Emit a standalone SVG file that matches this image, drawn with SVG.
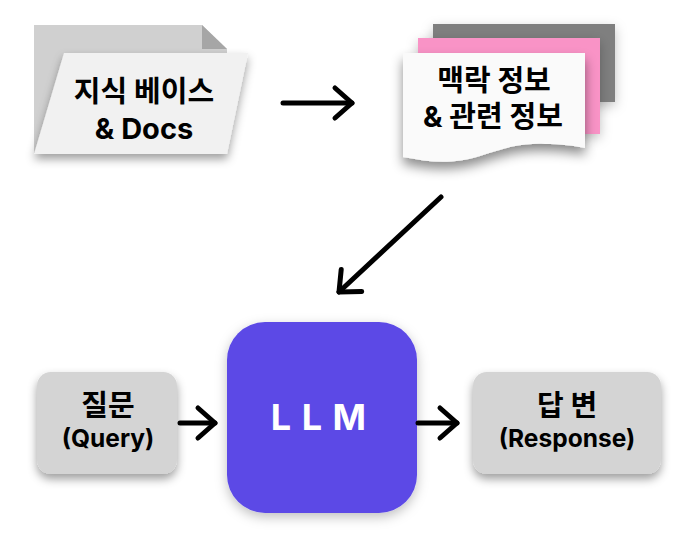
<svg xmlns="http://www.w3.org/2000/svg" width="682" height="534" viewBox="0 0 682 534">
  <defs>
    <filter id="shadow" x="-20%" y="-20%" width="140%" height="140%">
      <feDropShadow dx="0" dy="5" stdDeviation="5" flood-color="#000" flood-opacity="0.38"/>
    </filter>
    <filter id="docShadow" x="-20%" y="-20%" width="140%" height="140%">
      <feDropShadow dx="0" dy="7" stdDeviation="6" flood-color="#000" flood-opacity="0.45"/>
    </filter>
    <filter id="softShadow" x="-20%" y="-20%" width="140%" height="140%">
      <feDropShadow dx="0" dy="4" stdDeviation="6" flood-color="#000" flood-opacity="0.25"/>
    </filter>
    <marker id="head" viewBox="0 0 24 36" refX="21" refY="18" markerUnits="userSpaceOnUse" markerWidth="24" markerHeight="36" orient="auto" overflow="visible">
      <path d="M4 3 L21 18 L4 33" fill="none" stroke="#000" stroke-width="5" stroke-linecap="round" stroke-linejoin="round"/>
    </marker>
  </defs>
  <style>
    text { font-family: "Inter", "Noto Sans CJK KR", sans-serif; fill: #000; text-anchor: middle; font-weight: 700; }
    .big { font-size: 29px; }
    .mid { font-size: 29px; }
    .small { font-size: 24.5px; }
    .link { fill: none; stroke: #000; stroke-width: 5; stroke-linecap: round; marker-end: url(#head); }
  </style>
  <rect width="682" height="534" fill="#fff"/>

  <g id="knowledge-base">
    <path d="M34 25 H202 L227 49 V153 H34 Z" fill="#d0d0d0"/>
    <path d="M202 25 L227 49 H202 Z" fill="#a6a6a6"/>
    <path d="M64 53 H248 L227 154 H34 Z" fill="#f1f1f1" filter="url(#shadow)"/>
    <text class="big" x="144" y="102">지식 베이스</text>
    <text class="big" x="144" y="139">&amp; Docs</text>
  </g>

  <g id="context-docs">
    <path d="M433 24 H615 V102 H433 Z" fill="#7f7f7f" filter="url(#softShadow)"/>
    <path d="M418 38 H600 V134 H418 Z" fill="#f993c6" filter="url(#softShadow)"/>
    <path d="M403 53 H585 V148 C575 146 560 144 545 144 C520 143 505 148 480 156 C450 165 430 162 403 157 Z" fill="#fafafa" filter="url(#docShadow)"/>
    <text class="big" x="494" y="91">맥락 정보</text>
    <text class="big" x="493" y="127">&amp; 관련 정보</text>
  </g>

  <g id="llm">
    <rect x="227" y="322" width="190" height="191" rx="38" fill="#5b4ae6" filter="url(#softShadow)"/>
    <text x="319" y="430" font-size="36" letter-spacing="1" style="fill:#fff">L L M</text>
  </g>

  <g id="query">
    <rect x="37" y="372" width="140" height="102" rx="14" fill="#d4d4d4" filter="url(#shadow)"/>
    <text class="mid" x="108" y="416">질문</text>
    <text class="small" x="108" y="447">(Query)</text>
  </g>

  <g id="response">
    <rect x="473" y="372" width="188" height="102" rx="14" fill="#d4d4d4" filter="url(#shadow)"/>
    <text class="mid" x="567" y="416">답 변</text>
    <text class="small" x="567" y="447">(Response)</text>
  </g>

  <g id="connectors">
    <line class="link" x1="283" y1="103" x2="352" y2="103"/>
    <line class="link" x1="441" y1="197" x2="339" y2="292"/>
    <line class="link" x1="180" y1="423" x2="215" y2="423"/>
    <line class="link" x1="418" y1="423" x2="457" y2="423"/>
  </g>
</svg>
